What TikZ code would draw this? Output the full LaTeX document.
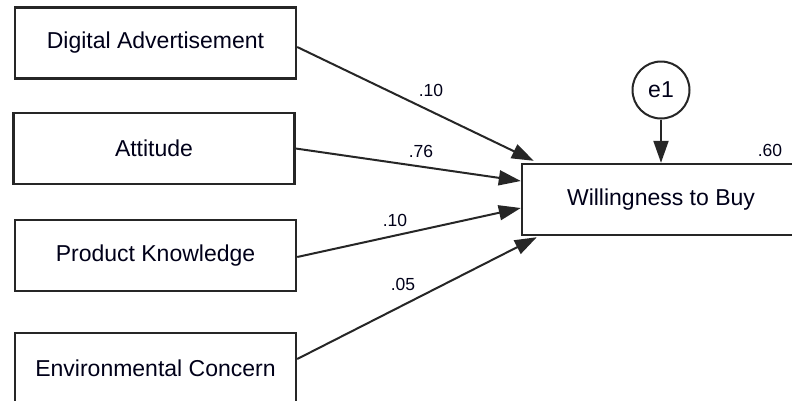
\documentclass[tikz,border=0pt]{standalone}
\usepackage{fontspec}
\setmainfont{Liberation Sans}
\usetikzlibrary{arrows.meta}
\begin{document}
\begin{tikzpicture}[x=1pt,y=-1pt,
  varbox/.style={draw=black!85, line width=2.4pt, inner sep=0pt, minimum width=281pt, minimum height=71pt, font=\fontsize{23}{27}\selectfont, text=black!90!blue},
  errc/.style={draw=black!85, line width=2pt, circle, inner sep=0pt, minimum size=57pt, font=\fontsize{23}{27}\selectfont, text=black!90!blue},
  path/.style={draw=black!85, line width=2pt, -{Triangle[length=22pt,width=15pt]}},
  coef/.style={font=\fontsize{17.5}{20}\selectfont, text=black!90!blue, inner sep=0pt}]
\useasboundingbox (0,0) rectangle (792,400);
\clip (0,0) rectangle (792,400);
\fill[white] (0,0) rectangle (792,400);
\node[varbox] (b1) at (155.5,43) {Digital Advertisement};
\node[varbox] (b2) at (154,148.5) {Attitude};
\node[varbox] (b3) at (155.5,255.5) {Product Knowledge};
\node[varbox] (b4) at (155.5,368.5) {Environmental Concern};
\node[varbox, minimum width=278pt] (wtb) at (661,199.5) {Willingness to Buy};
\node[errc] (e1) at (661,90) {e1};
\draw[path] ([yshift=-4pt]b1.east) -- ([xshift=13pt,yshift=2pt]wtb.north west);
\draw[path] (b2.east) -- ([yshift=18.5pt]wtb.west);
\draw[path] ([yshift=-1.5pt]b3.east) -- ([yshift=-8.5pt]wtb.west);
\draw[path] ([yshift=9.5pt]b4.east) -- ([xshift=16pt,yshift=-1pt]wtb.south west);
\draw[path] (e1.south) -- (wtb.north);
\node[coef] (c1) at (431,90) {.10};
\node[coef] (c2) at (421,151) {.76};
\node[coef] (c3) at (395,220) {.10};
\node[coef] (c4) at (403,284) {.05};
\node[coef] (c5) at (770,150) {.60};
\end{tikzpicture}
\end{document}
